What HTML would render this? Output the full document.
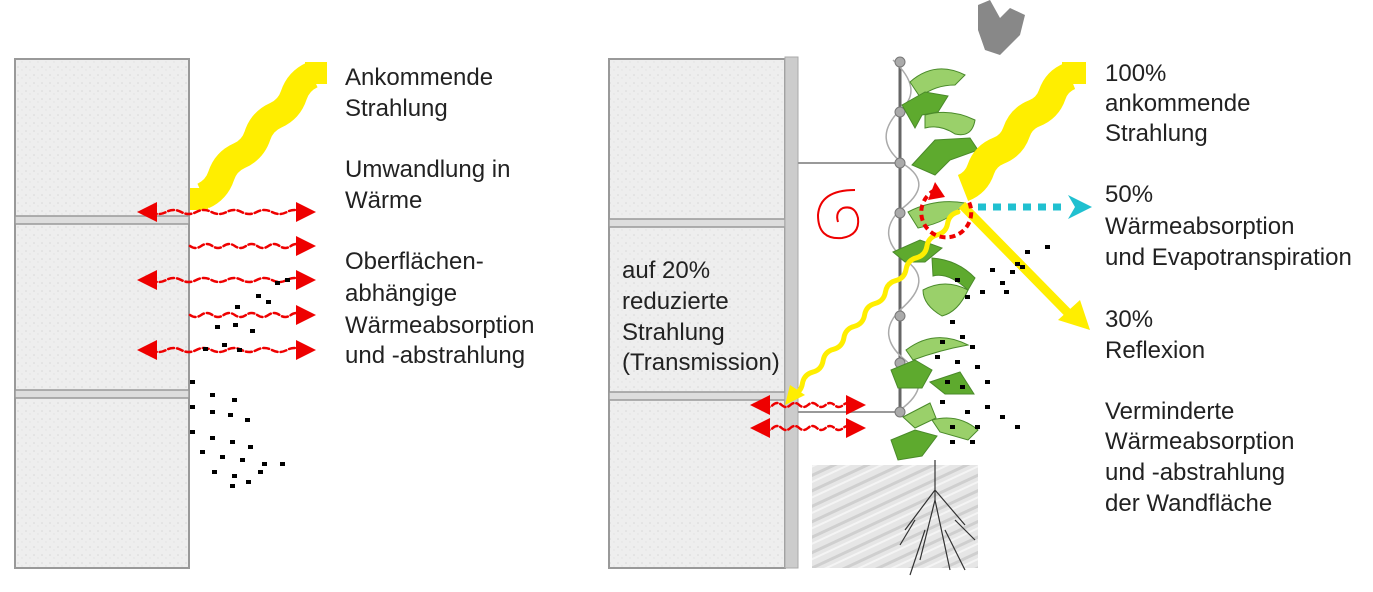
<!DOCTYPE html>
<html><head><meta charset="utf-8"><style>
body{margin:0;background:#fff;width:1373px;height:592px;overflow:hidden}
svg{position:absolute;left:0;top:0}
.t{font-family:"Liberation Sans",sans-serif;font-size:24px;fill:#222}
</style></head><body>
<svg width="1373" height="592" viewBox="0 0 1373 592">
<defs>
<pattern id="st" width="8" height="8" patternUnits="userSpaceOnUse"><rect width="8" height="8" fill="#eeeeee"/><circle cx="2" cy="3" r="0.8" fill="#d8d8d8"/><circle cx="6" cy="6" r="0.7" fill="#e2e2e2"/></pattern>
<pattern id="soil" width="14" height="14" patternUnits="userSpaceOnUse" patternTransform="rotate(-25)"><rect width="14" height="14" fill="#e6e6e6"/><line x1="0" y1="4" x2="14" y2="4" stroke="#cfcfcf" stroke-width="3"/><line x1="0" y1="10" x2="14" y2="10" stroke="#f4f4f4" stroke-width="2"/></pattern>
</defs>
<rect x="15" y="59" width="174" height="509" fill="url(#st)" stroke="#999" stroke-width="2"/>
<rect x="15" y="216" width="174" height="8" fill="#ddd" stroke="#999" stroke-width="1.5"/>
<rect x="15" y="390" width="174" height="8" fill="#ddd" stroke="#999" stroke-width="1.5"/>
<rect x="609" y="59" width="176" height="509" fill="url(#st)" stroke="#999" stroke-width="2"/>
<rect x="609" y="219" width="176" height="8" fill="#ddd" stroke="#999" stroke-width="1.5"/>
<rect x="609" y="392" width="176" height="8" fill="#ddd" stroke="#999" stroke-width="1.5"/>
<rect x="785" y="57" width="13" height="511" fill="#ccc" stroke="#aaa"/>
<rect x="812" y="465" width="166" height="103" fill="url(#soil)"/>
<line x1="798" y1="163" x2="900" y2="163" stroke="#999" stroke-width="2"/>
<line x1="798" y1="412" x2="900" y2="412" stroke="#999" stroke-width="2"/>
<line x1="900" y1="58" x2="900" y2="412" stroke="#666" stroke-width="3"/>
<path d="M893 60 Q925 90 900 110 Q870 140 905 165 Q935 185 900 210 Q875 235 905 260 Q935 280 900 310 Q875 335 905 360 Q935 385 900 410" fill="none" stroke="#aaa" stroke-width="1.5"/>
<g fill="#aaa" stroke="#777"><circle cx="900" cy="62" r="5"/><circle cx="900" cy="112" r="5"/><circle cx="900" cy="163" r="5"/><circle cx="900" cy="213" r="5"/><circle cx="900" cy="316" r="5"/><circle cx="900" cy="363" r="5"/><circle cx="900" cy="412" r="5"/></g>
<g stroke="#4a8a2a" stroke-width="1">
<path d="M910 82 Q935 60 965 75 L955 85 Q935 85 920 97Z" fill="#9ad06a"/>
<path d="M902 105 L925 92 L948 96 L938 112 L922 115 L915 128 Z" fill="#5eaa2e"/>
<path d="M925 115 Q950 108 975 120 Q972 138 955 134 Q940 124 925 128Z" fill="#9ad06a"/>
<path d="M912 165 L935 140 L970 138 L978 150 L950 160 L935 175 Z" fill="#5eaa2e"/>
<path d="M908 212 Q935 198 965 203 Q950 222 918 228Z" fill="#9ad06a"/>
<path d="M893 252 L920 240 L942 248 L925 262 L905 262 Z" fill="#5eaa2e"/>
<path d="M932 258 Q958 260 975 278 L968 290 Q948 272 933 276Z" fill="#5eaa2e"/>
<path d="M923 290 Q945 278 968 290 Q958 312 942 316 Q923 305 923 290Z" fill="#9ad06a"/>
<path d="M906 350 Q935 328 968 345 Q940 350 913 360Z" fill="#9ad06a"/>
<path d="M891 370 L915 360 L932 370 L922 388 L898 388 Z" fill="#5eaa2e"/>
<path d="M930 382 L960 372 L974 394 L945 394 Z" fill="#5eaa2e"/>
<path d="M903 417 L930 403 L936 418 L915 428 Z" fill="#9ad06a"/>
<path d="M932 420 Q958 413 978 430 L968 440 L940 432Z" fill="#9ad06a"/>
<path d="M891 440 L915 430 L937 436 L922 456 L898 460 Z" fill="#5eaa2e"/>
</g>
<path d="M935 460 L935 500 M935 490 L905 530 M935 490 L965 525 M935 500 L920 560 M935 500 L950 570 M915 520 L900 545 M955 520 L975 540 M925 530 L910 575 M945 530 L965 570" stroke="#333" stroke-width="1.2" fill="none"/>
<path d="M978 5 L990 0 L1000 18 L1010 8 L1025 15 L1020 35 L1000 55 L985 50 L978 30 Z" fill="#888"/>
<g id="dyn"></g>
<g class="t">
<text x="345" y="85">Ankommende</text><text x="345" y="116">Strahlung</text>
<text x="345" y="177">Umwandlung in</text><text x="345" y="208">Wärme</text>
<text x="345" y="269">Oberflächen-</text><text x="345" y="301">abhängige</text><text x="345" y="333">Wärmeabsorption</text><text x="345" y="363">und -abstrahlung</text>
<text x="622" y="278">auf 20%</text><text x="622" y="309">reduzierte</text><text x="622" y="340">Strahlung</text><text x="622" y="370">(Transmission)</text>
<text x="1105" y="81">100%</text><text x="1105" y="111">ankommende</text><text x="1105" y="141">Strahlung</text>
<text x="1105" y="202">50%</text><text x="1105" y="234">Wärmeabsorption</text><text x="1105" y="265">und Evapotranspiration</text>
<text x="1105" y="327">30%</text><text x="1105" y="358">Reflexion</text>
<text x="1105" y="419">Verminderte</text><text x="1105" y="449">Wärmeabsorption</text><text x="1105" y="480">und -abstrahlung</text><text x="1105" y="511">der Wandfläche</text>
</g>
</svg>
<script>
const g=document.getElementById('dyn');let h='';
function wig(x1,y1,x2,y2,n,amp,col,w,cap){let dx=x2-x1,dy=y2-y1,L=Math.hypot(dx,dy),px=-dy/L,py=dx/L;let d='M'+x1+' '+y1;
for(let i=0;i<n;i++){let s=(i+0.5)/n,e=(i+1)/n,sg=i%2?-1:1;d+=' Q'+(x1+dx*s+px*amp*sg).toFixed(1)+' '+(y1+dy*s+py*amp*sg).toFixed(1)+' '+(x1+dx*e).toFixed(1)+' '+(y1+dy*e).toFixed(1);}
return '<path d="'+d+'" fill="none" stroke="'+col+'" stroke-width="'+w+'" stroke-linecap="'+(cap||'round')+'" stroke-linejoin="round"/>';}
function redArr(x1,x2,y,both){let s=wig(both?x1+14:x1,y,x2-14,y,10,4,'#e00',2.5).replace('/>',' stroke-dasharray="6 3"/>');
s+='<polygon points="'+x2+','+y+' '+(x2-20)+','+(y-10)+' '+(x2-20)+','+(y+10)+'" fill="#e00"/>';
if(both)s+='<polygon points="'+x1+','+y+' '+(x1+20)+','+(y-10)+' '+(x1+20)+','+(y+10)+'" fill="#e00"/>';return s;}
h+=wig(203,196,312,75,6,6,'#ffee00',27,'butt');
h+='<rect x="305" y="62" width="22" height="22" fill="#ffee00"/><rect x="190" y="188" width="18" height="22" fill="#ffee00"/>';
h+=wig(963,188,1070,76,6,6,'#ffee00',28,'butt');
h+='<rect x="1062" y="62" width="24" height="22" fill="#ffee00"/>';
h+=wig(958,212,792,395,16,5,'#ffee00',5);
h+='<polygon points="785,405 790,385 805,395" fill="#ffee00"/>';
h+='<line x1="962" y1="205" x2="1070" y2="315" stroke="#ffee00" stroke-width="9"/><polygon points="1090,330 1058,320 1080,300" fill="#ffee00"/>';
h+='<line x1="978" y1="207" x2="1068" y2="207" stroke="#20c0d0" stroke-width="7" stroke-dasharray="8 7"/><polygon points="1092,207 1068,195 1075,207 1068,219" fill="#20c0d0"/>';
h+='<path d="M935 190 A25 25 0 1 0 968 200" fill="none" stroke="#e00" stroke-width="4" stroke-dasharray="6 4"/><polygon points="928,200 935,182 945,197" fill="#e00"/>';
h+='<path d="M855 190 Q820 190 818 215 Q818 240 842 238 Q860 235 858 218 Q855 205 843 208 Q835 212 838 222" fill="none" stroke="#e00" stroke-width="2"/>';
h+=redArr(137,316,212,1)+redArr(190,316,246,0)+redArr(137,316,280,1)+redArr(190,316,315,0)+redArr(137,316,350,1);
h+=redArr(750,866,405,1)+redArr(750,866,428,1);
const dots=[[190,380],[210,393],[232,398],[190,405],[210,410],[228,413],[245,418],[190,430],[210,436],[230,440],[248,445],[200,450],[220,455],[240,458],[262,462],[212,470],[232,474],[258,470],[280,462],[230,484],[246,480],[203,347],[222,343],[237,348],[215,325],[233,323],[250,329],[235,305],[256,294],[266,300],[275,281],[285,278],[955,278],[1025,250],[1045,245],[1015,262],[990,268],[1010,270],[1000,281],[1004,290],[980,290],[1020,265],[965,295],[950,320],[960,335],[970,345],[940,340],[935,355],[955,360],[975,365],[945,380],[960,385],[985,380],[940,400],[965,410],[985,405],[1000,415],[950,425],[975,425],[1015,425],[950,440],[970,440]];
dots.forEach(p=>h+='<rect x="'+p[0]+'" y="'+p[1]+'" width="5" height="4" fill="#000"/>');
g.innerHTML=h;
</script>
</body></html>
